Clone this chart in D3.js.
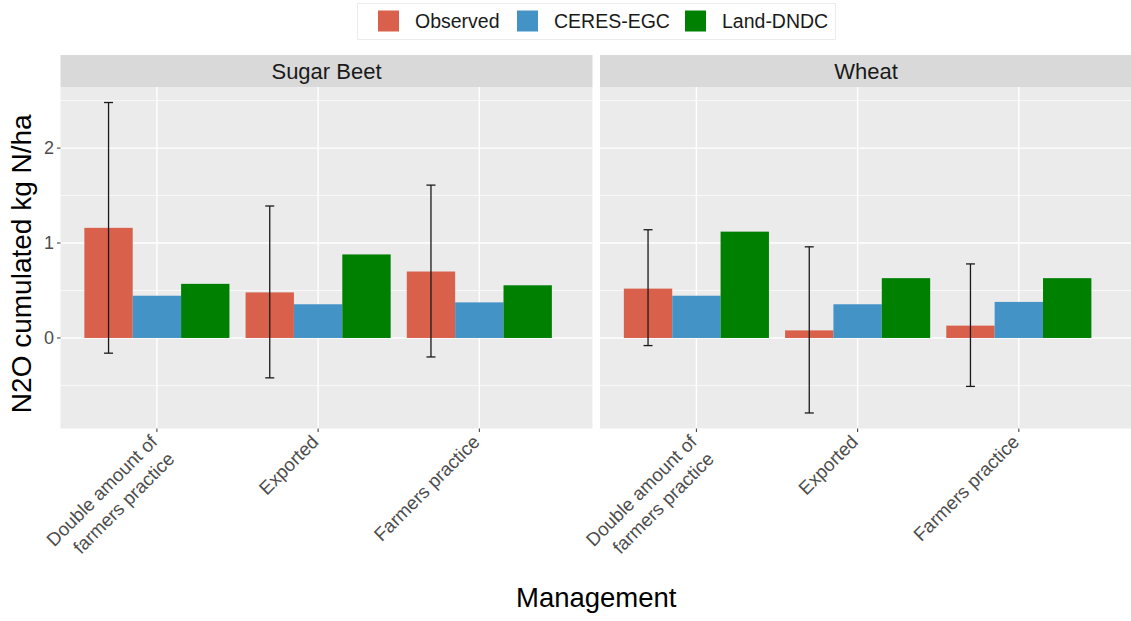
<!DOCTYPE html>
<html lang="en">
<head>
<meta charset="utf-8" />
<title>N2O cumulated by management</title>
<script src="https://d3js.org/d3.v7.min.js"></script>
<style>
    body { margin: 0; padding: 0; background: white; }
    svg { display: block; font-family: "Liberation Sans", Arial, sans-serif; }
</style>
</head>
<body>
<svg id="chart"></svg>
<script>
    var w = 1131;
    var h = 621;

    // Data
    var crops = ["Sugar Beet", "Wheat"];
    var managements = ["Double amount of farmers practice", "Exported", "Farmers practice"];
    var tickLabels = [["Double amount of", "farmers practice"], ["Exported"], ["Farmers practice"]];
    var models = ["Observed", "CERES-EGC", "Land-DNDC"];
    var colors = ["#d9604b", "#4393c6", "#008000"];

    var observedSugarBeet = [1.16, 0.48, 0.70];
    var observedWheat = [0.52, 0.08, 0.13];
    var ceresSugarBeet = [0.445, 0.355, 0.375];
    var ceresWheat = [0.445, 0.355, 0.38];
    var landSugarBeet = [0.57, 0.88, 0.555];
    var landWheat = [1.12, 0.63, 0.63];
    var errLowSugarBeet = [-0.16, -0.42, -0.20];
    var errHighSugarBeet = [2.48, 1.39, 1.61];
    var errLowWheat = [-0.08, -0.79, -0.51];
    var errHighWheat = [1.14, 0.96, 0.78];

    var yTicks = [0, 1, 2];
    var yMinor = [-0.5, 0.5, 1.5, 2.5];

    // build rows for each panel
    var panels = [
        {crop: crops[0], values: [observedSugarBeet, ceresSugarBeet, landSugarBeet], low: errLowSugarBeet, high: errHighSugarBeet},
        {crop: crops[1], values: [observedWheat, ceresWheat, landWheat], low: errLowWheat, high: errHighWheat}
    ];

    var panelTop = 87;
    var panelBottom = 428.5;
    var panelW = 532;
    var panelGap = 7.5;
    var panelLeft = 60.5;

    var svg = d3.select("#chart")
        .attr("width", w)
        .attr("height", h);

    // y range with 5% expansion like ggplot
    var allVals = [0].concat(errLowSugarBeet, errHighSugarBeet, errLowWheat, errHighWheat,
        observedSugarBeet, observedWheat, landSugarBeet, landWheat);
    var yMin = d3.min(allVals), yMax = d3.max(allVals);
    var pad = (yMax - yMin) * 0.05;
    var yScale = d3.scaleLinear()
        .domain([yMin - pad, yMax + pad])
        .range([panelBottom, panelTop]);

    var xScale = d3.scalePoint()
        .domain(managements)
        .range([0, panelW])
        .padding(0.65)
        .align(0.46);

    var step = xScale.step();
    var inner = d3.scaleBand()
        .domain(models)
        .range([-0.45 * step, 0.45 * step]);

    panels.forEach(function(p, pi) {
        var x0 = panelLeft + pi * (panelW + panelGap);
        var g = svg.append("g").attr("transform", "translate(" + x0 + ",0)");

        // strip
        g.append("rect")
            .attr("x", 0).attr("y", 55)
            .attr("width", panelW).attr("height", panelTop - 55)
            .attr("fill", "#d9d9d9");
        g.append("text")
            .attr("x", panelW / 2).attr("y", 79)
            .attr("text-anchor", "middle")
            .attr("font-size", "22px")
            .attr("fill", "#1a1a1a")
            .text(p.crop);

        // panel background
        g.append("rect")
            .attr("x", 0).attr("y", panelTop)
            .attr("width", panelW).attr("height", panelBottom - panelTop)
            .attr("fill", "#ebebeb");

        // grid lines
        g.selectAll(".minor").data(yMinor).enter().append("line")
            .attr("x1", 0).attr("x2", panelW)
            .attr("y1", function(d) { return yScale(d); })
            .attr("y2", function(d) { return yScale(d); })
            .attr("stroke", "white").attr("stroke-width", 0.7);
        g.selectAll(".major").data(yTicks).enter().append("line")
            .attr("x1", 0).attr("x2", panelW)
            .attr("y1", function(d) { return yScale(d); })
            .attr("y2", function(d) { return yScale(d); })
            .attr("stroke", "white").attr("stroke-width", 1.4);
        g.selectAll(".vmajor").data(managements).enter().append("line")
            .attr("x1", function(d) { return xScale(d); })
            .attr("x2", function(d) { return xScale(d); })
            .attr("y1", panelTop).attr("y2", panelBottom)
            .attr("stroke", "white").attr("stroke-width", 1.4);

        // bars
        models.forEach(function(m, mi) {
            g.selectAll(".bar" + mi).data(p.values[mi]).enter().append("rect")
                .attr("x", function(d, i) { return xScale(managements[i]) + inner(m); })
                .attr("y", function(d) { return yScale(Math.max(0, d)); })
                .attr("width", inner.bandwidth())
                .attr("height", function(d) { return Math.abs(yScale(d) - yScale(0)); })
                .attr("fill", colors[mi]);
        });

        // error bars on observed
        var cx = function(i) { return xScale(managements[i]) + inner("Observed") + inner.bandwidth() / 2; };
        var eb = g.selectAll(".err").data(managements).enter().append("g")
            .attr("stroke", "#1a1a1a").attr("stroke-width", 1.3);
        eb.append("line")
            .attr("x1", function(d, i) { return cx(i); })
            .attr("x2", function(d, i) { return cx(i); })
            .attr("y1", function(d, i) { return yScale(p.low[i]); })
            .attr("y2", function(d, i) { return yScale(p.high[i]); });
        eb.append("line")
            .attr("x1", function(d, i) { return cx(i) - 4.5; })
            .attr("x2", function(d, i) { return cx(i) + 4.5; })
            .attr("y1", function(d, i) { return yScale(p.low[i]); })
            .attr("y2", function(d, i) { return yScale(p.low[i]); });
        eb.append("line")
            .attr("x1", function(d, i) { return cx(i) - 4.5; })
            .attr("x2", function(d, i) { return cx(i) + 4.5; })
            .attr("y1", function(d, i) { return yScale(p.high[i]); })
            .attr("y2", function(d, i) { return yScale(p.high[i]); });

        // x ticks and rotated labels
        g.selectAll(".xtick").data(managements).enter().append("line")
            .attr("x1", function(d) { return xScale(d); })
            .attr("x2", function(d) { return xScale(d); })
            .attr("y1", panelBottom).attr("y2", panelBottom + 3.5)
            .attr("stroke", "#333333").attr("stroke-width", 1);

        var lbl = g.selectAll(".xlabel").data(managements).enter().append("text")
            .attr("transform", function(d) { return "translate(" + (xScale(d) - 9) + "," + (panelBottom + 4) + ") rotate(-45)"; })
            .attr("text-anchor", "end")
            .attr("font-size", "18.7px")
            .attr("fill", "#4d4d4d");
        lbl.each(function(d, i) {
            var t = d3.select(this);
            tickLabels[i].forEach(function(line, li) {
                t.append("tspan")
                    .attr("x", 0)
                    .attr("dy", li === 0 ? "0.8em" : "1.3em")
                    .text(line);
            });
        });

        // y axis only on first panel
        if (pi === 0) {
            g.selectAll(".ytick").data(yTicks).enter().append("line")
                .attr("x1", -3.5).attr("x2", 0)
                .attr("y1", function(d) { return yScale(d); })
                .attr("y2", function(d) { return yScale(d); })
                .attr("stroke", "#333333").attr("stroke-width", 1);
            g.selectAll(".ylabel").data(yTicks).enter().append("text")
                .attr("x", -6.5)
                .attr("y", function(d) { return yScale(d); })
                .attr("dy", "0.35em")
                .attr("text-anchor", "end")
                .attr("font-size", "18px")
                .attr("fill", "#4d4d4d")
                .text(function(d) { return d; });
        }
    });

    // axis titles
    svg.append("text")
        .attr("transform", "translate(31," + ((panelTop + panelBottom) / 2 + 6) + ") rotate(-90)")
        .attr("text-anchor", "middle")
        .attr("font-size", "28px")
        .attr("fill", "black")
        .text("N2O cumulated kg N/ha");

    svg.append("text")
        .attr("x", (panelLeft + panelLeft + 2 * panelW + panelGap) / 2)
        .attr("y", 607)
        .attr("text-anchor", "middle")
        .attr("font-size", "27.5px")
        .attr("fill", "black")
        .text("Management");

    // legend at top
    var legend = svg.append("g");
    legend.append("rect")
        .attr("x", 357.5).attr("y", 3.5)
        .attr("width", 478).attr("height", 36)
        .attr("fill", "white")
        .attr("stroke", "#ececec");
    var keyX = [378, 517, 685];
    var items = legend.selectAll(".key").data(models).enter().append("g")
        .attr("transform", function(d, i) { return "translate(" + keyX[i] + ",10.5)"; });
    items.append("rect")
        .attr("width", 21).attr("height", 21)
        .attr("fill", function(d, i) { return colors[i]; });
    items.append("text")
        .attr("x", 37).attr("y", 10.5)
        .attr("dy", "0.36em")
        .attr("font-size", "19.5px")
        .attr("fill", "#1a1a1a")
        .text(function(d) { return d; });
</script>
</body>
</html>
